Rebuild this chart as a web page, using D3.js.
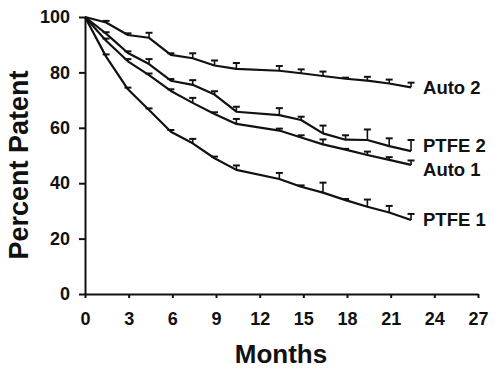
<!DOCTYPE html>
<html>
<head>
    <meta charset="utf-8">
    <title>Percent Patent</title>
    <script type="text/javascript" src="https://cdn.jsdelivr.net/npm/d3@7"></script>
    <style>
        body { margin: 0; background: #fff; }
        text { font-family: "Liberation Sans", Arial, sans-serif; font-weight: bold; fill: #111; }
        .axis path, .axis line { stroke: #111; stroke-width: 2; }
    </style>
</head>

<body>

<script type="text/javascript">
    // months of follow-up
    var months = [0, 1.45, 2.95, 4.4, 5.9, 7.4, 8.9, 10.4, 13.35, 14.85, 16.35, 17.9, 19.4, 20.9, 22.4];

    var seriesNames = ["Auto 2", "PTFE 2", "Auto 1", "PTFE 1"];

    var auto2 = [100, 98, 93.5, 92.5, 86.3, 85.1, 82.5, 81.3, 80.6, 79.7, 78.7, 77.7, 77, 76, 74.6];
    var ptfe2 = [100, 94, 87, 83, 77, 75.5, 72, 65.8, 64.6, 62.8, 58, 55.7, 55.6, 53.4, 51.6];
    var auto1 = [100, 91.4, 84, 79, 73.3, 69, 65, 61.4, 59, 56.5, 54, 52.1, 50.2, 48.4, 46.6];
    var ptfe1 = [100, 85.7, 73.9, 66.4, 58.6, 54.4, 49, 44.8, 41.5, 38.7, 36.6, 33.9, 31.5, 29.4, 26.7];

    // upper error bars
    var auto2Err = [0, 0.6, 0.6, 1.8, 0.6, 1.8, 1.8, 2.1, 1.7, 1.4, 1.6, 0.4, 1.4, 1.4, 1.7];
    var ptfe2Err = [0, 0.5, 0.6, 1.8, 0.6, 1.7, 1.2, 1.8, 2.5, 1.2, 2.8, 1.6, 3.8, 2.8, 4];
    var auto1Err = [0, 0.8, 0.8, 0.6, 0.6, 1.8, 0.6, 1.8, 0.7, 0.8, 1.8, 0.3, 1.2, 1.0, 1.6];
    var ptfe1Err = [0, 0.8, 0.6, 0.6, 0.6, 1.6, 0.6, 1.6, 2.2, 0.5, 3.6, 0.4, 2.6, 2.4, 2.2];

    var xTicks = [0, 3, 6, 9, 12, 15, 18, 21, 24, 27];
    var yTicks = [0, 20, 40, 60, 80, 100];

    var width = 500, height = 375;
    var plotLeft = 85, plotRight = 478, plotTop = 17, plotBottom = 294;

    var values = [auto2, ptfe2, auto1, ptfe1];
    var errors = [auto2Err, ptfe2Err, auto1Err, ptfe1Err];
    var labelDy = [6.5, 0.5, 11, 6];

    var svg = d3.select("body").append("svg")
            .attr("width", width)
            .attr("height", height);

    var x = d3.scaleLinear().domain([0, 27]).range([plotLeft, plotRight]);
    var y = d3.scaleLinear().domain([0, 100]).range([plotBottom, plotTop]);

    // axes
    svg.append("g")
        .attr("class", "axis")
        .attr("transform", "translate(0," + plotBottom + ")")
        .call(d3.axisBottom(x).tickValues(xTicks).tickSize(4).tickSizeOuter(0).tickPadding(14))
        .selectAll("text")
        .style("font-size", "18px");

    svg.append("g")
        .attr("class", "axis")
        .attr("transform", "translate(" + plotLeft + ",0)")
        .call(d3.axisLeft(y).tickValues(yTicks).tickSize(6).tickSizeOuter(0).tickPadding(9))
        .selectAll("text")
        .style("font-size", "18px");

    // curves
    var line = d3.line()
        .x(function(d, i) { return x(months[i]); })
        .y(function(d) { return y(d); });

    values.forEach(function(vals, s) {
        svg.append("path")
            .attr("d", line(vals))
            .attr("fill", "none")
            .attr("stroke", "#111")
            .attr("stroke-width", 2.2)
            .attr("stroke-linejoin", "round");

        var g = svg.append("g");
        vals.forEach(function(v, i) {
            if (i === 0) return;
            var cx = x(months[i]), yTop = y(v + errors[s][i]);
            g.append("line")
                .attr("x1", cx).attr("x2", cx)
                .attr("y1", y(v)).attr("y2", yTop)
                .attr("stroke", "#111").attr("stroke-width", 1.6);
            g.append("line")
                .attr("x1", cx - 3.5).attr("x2", cx + 3.5)
                .attr("y1", yTop).attr("y2", yTop)
                .attr("stroke", "#111").attr("stroke-width", 2);
        });

        svg.append("text")
            .attr("x", x(months[months.length - 1]) + 12)
            .attr("y", y(vals[vals.length - 1]) + labelDy[s])
            .style("font-size", "18.5px")
            .text(seriesNames[s]);
    });

    // axis titles
    svg.append("text")
        .attr("x", 281)
        .attr("y", 363)
        .attr("text-anchor", "middle")
        .style("font-size", "26px")
        .text("Months");

    svg.append("text")
        .attr("transform", "translate(28,165) rotate(-90)")
        .attr("text-anchor", "middle")
        .style("font-size", "27px")
        .text("Percent Patent");
</script>

</body>

</html>
